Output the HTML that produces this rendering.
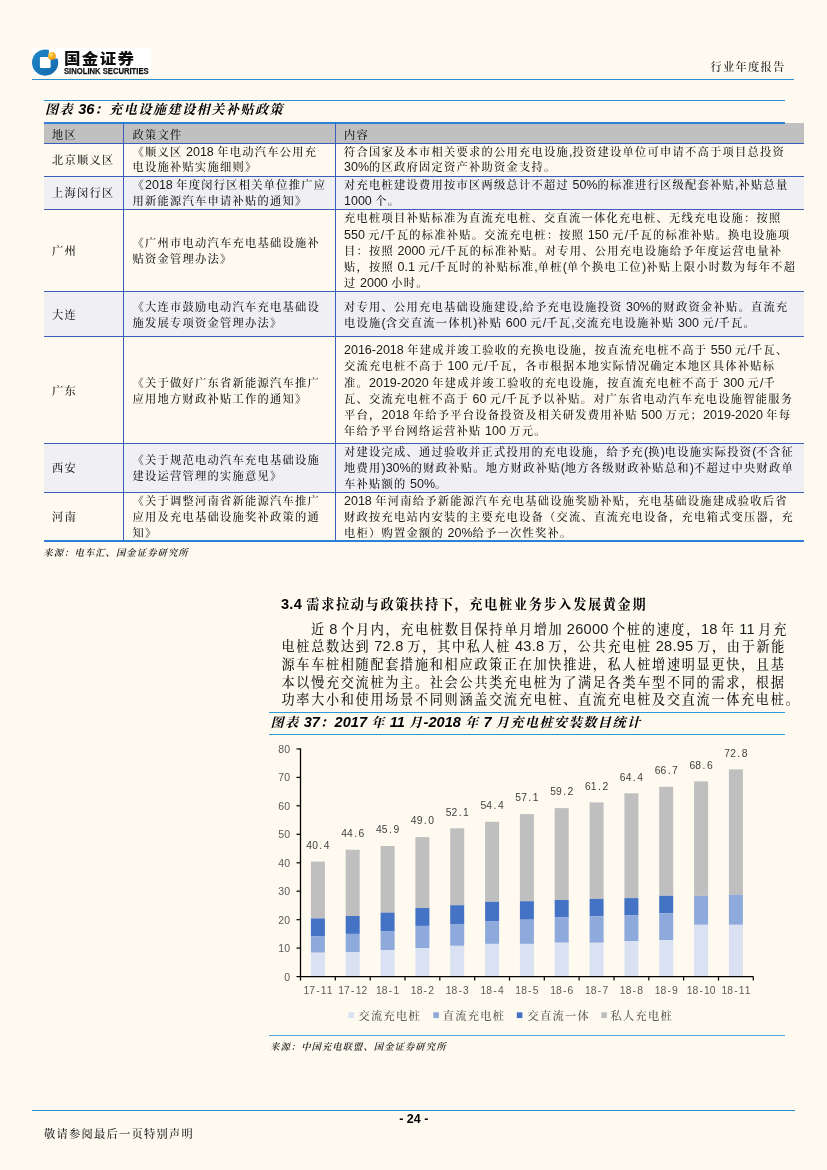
<!DOCTYPE html>
<html lang="zh-CN"><head><meta charset="utf-8"><title>行业年度报告</title><style>
html,body{margin:0;padding:0;}
body{width:827px;height:1170px;position:relative;background:#fefaf0;overflow:hidden;font-family:'Liberation Sans','Noto Serif CJK SC',serif;color:#1a1a1a;}
.abs{position:absolute;}
.ln{position:absolute;height:0;}
.t{position:absolute;white-space:nowrap;}
.cell{position:absolute;display:flex;flex-direction:column;justify-content:center;font-size:12.5px;line-height:16.2px;}
.cell div{white-space:nowrap;}
.row{position:absolute;left:44px;width:760px;}
.alt{background:#f0f0f4;}
.hl{position:absolute;left:44px;width:760px;height:0;border-top:1.1px solid #3c5cb9;}
.vl{position:absolute;width:0;border-left:1.2px solid #3c5cb9;}
.k{font-weight:var(--kw,500);font-size:0.9em;letter-spacing:calc(0.111em + var(--ls,0px));}
.para div{box-sizing:border-box;width:100%;white-space:nowrap;text-align:justify;text-align-last:justify;}
</style></head>
<body>
<div class="abs" style="left:32px;top:48px;width:119px;height:29px;background:#fff"></div>
<svg class="abs" style="left:30px;top:46px" width="32" height="32" viewBox="30 46 32 32">
<defs><radialGradient id="g1" cx="0.35" cy="0.3" r="0.8"><stop offset="0" stop-color="#ffe37a"/><stop offset="0.5" stop-color="#f7b320"/><stop offset="1" stop-color="#e98a12"/></radialGradient>
<linearGradient id="g2" x1="0" y1="0" x2="1" y2="1"><stop offset="0" stop-color="#1d88ca"/><stop offset="1" stop-color="#1668aa"/></linearGradient></defs>
<circle cx="45.1" cy="62.6" r="13.1" fill="url(#g2)"/>
<rect x="39.9" y="57.1" width="10.7" height="10.8" rx="1.2" fill="#fff"/>
<path d="M48.9 48 L60 48 L60 58.6 L50 58.6 L50 57.1 L48.9 57.1 Z" fill="#fff"/>
<circle cx="51.9" cy="55.9" r="3.9" fill="url(#g1)"/>
</svg>
<div class="t" style="left:64px;top:48.6px;font-family:'Liberation Sans','Noto Sans CJK SC',sans-serif;font-weight:900;font-size:15px;line-height:20px;letter-spacing:1.2px;transform:scaleX(1.1);transform-origin:0 0;color:#111">国金证券</div>
<div class="t" style="left:64.2px;top:65.7px;font-family:'Liberation Sans','Noto Sans CJK SC',sans-serif;font-weight:700;font-size:8.5px;line-height:11px;letter-spacing:0;transform:scaleX(0.9);transform-origin:0 0;-webkit-text-stroke:0.25px #111;color:#111">SINOLINK SECURITIES</div>
<div class="t" style="left:710.5px;top:58.4px;font-size:12.5px;line-height:18px;letter-spacing:0px"><span class="k">行业年度报告</span></div>
<div class="ln" style="left:32px;width:762px;top:78.6px;border-top:1.3px solid #2c8fd0"></div>
<div class="ln" style="left:44px;width:741px;top:99.8px;border-top:1.2px solid #2c8fd0"></div>
<div class="t" style="left:45px;top:100px;font-size:14.6px;line-height:18px;font-weight:700;--kw:700;font-style:italic;color:#000"><span class="k">图表</span> 36<span class="k">：充电设施建设相关补贴政策</span></div>
<div class="row" style="top:123px;height:20.2px;background:#c0c0c0"></div>
<div class="ln" style="left:44px;width:741px;top:121.8px;border-top:2px solid #2e7fd6"></div>
<div class="t" style="left:52px;top:126.5px;font-size:12.5px;line-height:17px"><span class="k">地区</span></div>
<div class="t" style="left:132.5px;top:126.5px;font-size:12.5px;line-height:17px"><span class="k">政策文件</span></div>
<div class="t" style="left:344px;top:126.5px;font-size:12.5px;line-height:17px"><span class="k">内容</span></div>
<div class="cell" style="left:52px;top:143.8px;height:33.0px;line-height:15.6px"><div><span class="k">北京顺义区</span></div></div>
<div class="cell" style="left:132.5px;top:143.8px;height:33.0px;line-height:15.6px"><div><span class="k">《顺义区</span> 2018 <span class="k">年电动汽车公用充</span></div><div><span class="k">电设施补贴实施细则》</span></div></div>
<div class="cell" style="left:344px;top:143.8px;height:33.0px;line-height:15.6px"><div><span class="k">符合国家及本市相关要求的公用充电设施</span>,<span class="k">投资建设单位可申请不高于项目总投资</span></div><div>30%<span class="k">的区政府固定资产补助资金支持。</span></div></div>
<div class="row alt" style="top:176.2px;height:33.6px"></div>
<div class="cell" style="left:52px;top:176.8px;height:33.6px;line-height:15.6px"><div><span class="k">上海闵行区</span></div></div>
<div class="cell" style="left:132.5px;top:176.8px;height:33.6px;line-height:15.6px"><div><span class="k">《</span>2018 <span class="k">年度闵行区相关单位推广应</span></div><div><span class="k">用新能源汽车申请补贴的通知》</span></div></div>
<div class="cell" style="left:344px;top:176.8px;height:33.6px;line-height:15.6px"><div><span class="k">对充电桩建设费用按市区两级总计不超过</span> 50%<span class="k">的标准进行区级配套补贴</span>,<span class="k">补贴总量</span></div><div>1000 <span class="k">个。</span></div></div>
<div class="cell" style="left:52px;top:210.4px;height:81.4px;line-height:16.25px"><div><span class="k">广州</span></div></div>
<div class="cell" style="left:132.5px;top:210.4px;height:81.4px;line-height:16.25px"><div><span class="k">《广州市电动汽车充电基础设施补</span></div><div><span class="k">贴资金管理办法》</span></div></div>
<div class="cell" style="left:344px;top:210.4px;height:81.4px;line-height:16.25px"><div><span class="k">充电桩项目补贴标准为直流充电桩、交直流一体化充电桩、无线充电设施：按照</span></div><div>550 <span class="k">元</span>/<span class="k">千瓦的标准补贴。交流充电桩：按照</span> 150 <span class="k">元</span>/<span class="k">千瓦的标准补贴。换电设施项</span></div><div><span class="k">目：按照</span> 2000 <span class="k">元</span>/<span class="k">千瓦的标准补贴。对专用、公用充电设施给予年度运营电量补</span></div><div><span class="k">贴，按照</span> 0.1 <span class="k">元</span>/<span class="k">千瓦时的补贴标准</span>,<span class="k">单桩</span>(<span class="k">单个换电工位</span>)<span class="k">补贴上限小时数为每年不超</span></div><div><span class="k">过</span> 2000 <span class="k">小时。</span></div></div>
<div class="row alt" style="top:291.2px;height:45.8px"></div>
<div class="cell" style="left:52px;top:291.8px;height:45.8px;line-height:16.0px"><div><span class="k">大连</span></div></div>
<div class="cell" style="left:132.5px;top:291.8px;height:45.8px;line-height:16.0px"><div><span class="k">《大连市鼓励电动汽车充电基础设</span></div><div><span class="k">施发展专项资金管理办法》</span></div></div>
<div class="cell" style="left:344px;top:291.8px;height:45.8px;line-height:16.0px"><div><span class="k">对专用、公用充电基础设施建设</span>,<span class="k">给予充电设施投资</span> 30%<span class="k">的财政资金补贴。直流充</span></div><div><span class="k">电设施</span>(<span class="k">含交直流一体机</span>)<span class="k">补贴</span> 600 <span class="k">元</span>/<span class="k">千瓦</span>,<span class="k">交流充电设施补贴</span> 300 <span class="k">元</span>/<span class="k">千瓦。</span></div></div>
<div class="cell" style="left:52px;top:337.6px;height:106.5px;line-height:16.25px"><div><span class="k">广东</span></div></div>
<div class="cell" style="left:132.5px;top:337.6px;height:106.5px;line-height:16.25px"><div><span class="k">《关于做好广东省新能源汽车推广</span></div><div><span class="k">应用地方财政补贴工作的通知》</span></div></div>
<div class="cell" style="left:344px;top:337.6px;height:106.5px;line-height:16.25px"><div>2016-2018 <span class="k">年建成并竣工验收的充换电设施，按直流充电桩不高于</span> 550 <span class="k">元</span>/<span class="k">千瓦、</span></div><div><span class="k">交流充电桩不高于</span> 100 <span class="k">元</span>/<span class="k">千瓦，各市根据本地实际情况确定本地区具体补贴标</span></div><div><span class="k">准。</span>2019-2020 <span class="k">年建成并竣工验收的充电设施，按直流充电桩不高于</span> 300 <span class="k">元</span>/<span class="k">千</span></div><div><span class="k">瓦、交流充电桩不高于</span> 60 <span class="k">元</span>/<span class="k">千瓦予以补贴。对广东省电动汽车充电设施智能服务</span></div><div><span class="k">平台，</span>2018 <span class="k">年给予平台设备投资及相关研发费用补贴</span> 500 <span class="k">万元；</span>2019-2020 <span class="k">年每</span></div><div><span class="k">年给予平台网络运营补贴</span> 100 <span class="k">万元。</span></div></div>
<div class="row alt" style="top:443.5px;height:48.6px"></div>
<div class="cell" style="left:52px;top:444.1px;height:48.6px;line-height:16.0px"><div><span class="k">西安</span></div></div>
<div class="cell" style="left:132.5px;top:444.1px;height:48.6px;line-height:16.0px"><div><span class="k">《关于规范电动汽车充电基础设施</span></div><div><span class="k">建设运营管理的实施意见》</span></div></div>
<div class="cell" style="left:344px;top:444.1px;height:48.6px;line-height:16.0px"><div><span class="k">对建设完成、通过验收并正式投用的充电设施，给予充</span>(<span class="k">换</span>)<span class="k">电设施实际投资</span>(<span class="k">不含征</span></div><div><span class="k">地费用</span>)30%<span class="k">的财政补贴。地方财政补贴</span>(<span class="k">地方各级财政补贴总和</span>)<span class="k">不超过中央财政单</span></div><div><span class="k">车补贴额的</span> 50%<span class="k">。</span></div></div>
<div class="cell" style="left:52px;top:493.3px;height:48.4px;line-height:16.0px"><div><span class="k">河南</span></div></div>
<div class="cell" style="left:132.5px;top:493.3px;height:48.4px;line-height:16.0px"><div><span class="k">《关于调整河南省新能源汽车推广</span></div><div><span class="k">应用及充电基础设施奖补政策的通</span></div><div><span class="k">知》</span></div></div>
<div class="cell" style="left:344px;top:493.3px;height:48.4px;line-height:16.0px"><div>2018 <span class="k">年河南给予新能源汽车充电基础设施奖励补贴，充电基础设施建成验收后省</span></div><div><span class="k">财政按充电站内安装的主要充电设备（交流、直流充电设备，充电箱式变压器，充</span></div><div><span class="k">电柜）购置金额的</span> 20%<span class="k">给予一次性奖补。</span></div></div>
<div class="hl" style="top:175.6px"></div>
<div class="hl" style="top:209.2px"></div>
<div class="hl" style="top:290.6px"></div>
<div class="hl" style="top:336.4px"></div>
<div class="hl" style="top:442.9px"></div>
<div class="hl" style="top:491.5px"></div>
<div class="hl" style="top:142.6px"></div>
<div class="ln" style="left:44px;width:760px;top:540.2px;border-top:2.2px solid #2e7fd6"></div>
<div class="vl" style="left:122.9px;top:123px;height:417px"></div>
<div class="vl" style="left:334.8px;top:123px;height:417px"></div>
<div class="t" style="left:43.3px;top:545.5px;font-size:10.4px;line-height:13px;font-style:italic;--kw:600"><span class="k">来源：电车汇、国金证券研究所</span></div>
<div class="t" style="left:281px;top:594.5px;font-size:14.6px;line-height:19px;font-weight:700;--kw:700;letter-spacing:0.24px;--ls:0.24px;color:#000">3.4 <span class="k">需求拉动与政策扶持下，充电桩业务步入发展黄金期</span></div>
<div class="abs para" style="left:281.5px;top:620.8px;width:504.8px;font-size:14.6px;line-height:16.62px;letter-spacing:0.24px;--ls:0.24px">
<div style="padding-left:29.6px;text-align:left;text-align-last:left;word-spacing:-0.9px;"><span class="k">近</span> 8 <span class="k">个月内，充电桩数目保持单月增加</span> 26000 <span class="k">个桩的速度，</span>18 <span class="k">年</span> 11 <span class="k">月充</span></div>
<div style="text-align:left;text-align-last:left;word-spacing:-0.5px;"><span class="k">电桩总数达到</span> 72.8 <span class="k">万，其中私人桩</span> 43.8 <span class="k">万，公共充电桩</span> 28.95 <span class="k">万，由于新能</span></div>
<div style="text-align:left;text-align-last:left;"><span class="k">源车车桩相随配套措施和相应政策正在加快推进，私人桩增速明显更快，且基</span></div>
<div style="text-align:left;text-align-last:left;"><span class="k">本以慢充交流桩为主。社会公共类充电桩为了满足各类车型不同的需求，根据</span></div>
<div style="text-align:left;text-align-last:left;"><span class="k">功率大小和使用场景不同则涵盖交流充电桩、直流充电桩及交直流一体充电桩。</span></div>
</div>
<div class="ln" style="left:269px;width:516px;top:711.8px;border-top:1.2px solid #2c9bd6"></div>
<div class="t" style="left:270.5px;top:713px;font-size:14.6px;line-height:18px;font-weight:700;--kw:700;font-style:italic;color:#000"><span class="k">图表</span> 37<span class="k">：</span>2017 <span class="k">年</span> 11 <span class="k">月</span>-2018 <span class="k">年</span> 7 <span class="k">月充电桩安装数目统计</span></div>
<div class="ln" style="left:269px;width:516px;top:733.5px;border-top:1.2px solid #2c9bd6"></div>
<svg class="abs" style="left:0;top:740px" width="827" height="300" viewBox="0 740 827 300">
<rect x="310.9" y="861.6" width="14.0" height="56.8" fill="#bfbfbf"/>
<rect x="310.9" y="918.4" width="14.0" height="18.1" fill="#4472c4"/>
<rect x="310.9" y="936.5" width="14.0" height="16.2" fill="#8ea9db"/>
<rect x="310.9" y="952.7" width="14.0" height="23.9" fill="#d9e1f2"/>
<text x="309.2 315.0 320.8 326.6" y="848.8" text-anchor="middle" font-family="'Liberation Sans',sans-serif" font-size="10.3" fill="#404040">40.4</text>
<text x="306.3 312.1 317.9 323.7 329.5" y="994.3" text-anchor="middle" font-family="'Liberation Sans',sans-serif" font-size="10.3" fill="#595959">17-11</text>
<rect x="345.7" y="849.7" width="14.0" height="66.3" fill="#bfbfbf"/>
<rect x="345.7" y="916.0" width="14.0" height="17.9" fill="#4472c4"/>
<rect x="345.7" y="933.9" width="14.0" height="18.2" fill="#8ea9db"/>
<rect x="345.7" y="952.1" width="14.0" height="24.5" fill="#d9e1f2"/>
<text x="344.0 349.8 355.6 361.4" y="836.9" text-anchor="middle" font-family="'Liberation Sans',sans-serif" font-size="10.3" fill="#404040">44.6</text>
<text x="341.1 346.9 352.7 358.5 364.3" y="994.3" text-anchor="middle" font-family="'Liberation Sans',sans-serif" font-size="10.3" fill="#595959">17-12</text>
<rect x="380.6" y="846.0" width="14.0" height="66.6" fill="#bfbfbf"/>
<rect x="380.6" y="912.6" width="14.0" height="18.5" fill="#4472c4"/>
<rect x="380.6" y="931.1" width="14.0" height="19.1" fill="#8ea9db"/>
<rect x="380.6" y="950.1" width="14.0" height="26.5" fill="#d9e1f2"/>
<text x="378.9 384.7 390.5 396.3" y="833.2" text-anchor="middle" font-family="'Liberation Sans',sans-serif" font-size="10.3" fill="#404040">45.9</text>
<text x="378.9 384.7 390.5 396.3" y="994.3" text-anchor="middle" font-family="'Liberation Sans',sans-serif" font-size="10.3" fill="#595959">18-1</text>
<rect x="415.4" y="837.1" width="14.0" height="70.9" fill="#bfbfbf"/>
<rect x="415.4" y="908.0" width="14.0" height="17.9" fill="#4472c4"/>
<rect x="415.4" y="925.9" width="14.0" height="22.2" fill="#8ea9db"/>
<rect x="415.4" y="948.1" width="14.0" height="28.5" fill="#d9e1f2"/>
<text x="413.7 419.5 425.3 431.1" y="824.3" text-anchor="middle" font-family="'Liberation Sans',sans-serif" font-size="10.3" fill="#404040">49.0</text>
<text x="413.7 419.5 425.3 431.1" y="994.3" text-anchor="middle" font-family="'Liberation Sans',sans-serif" font-size="10.3" fill="#595959">18-2</text>
<rect x="450.2" y="828.3" width="14.0" height="76.8" fill="#bfbfbf"/>
<rect x="450.2" y="905.2" width="14.0" height="18.8" fill="#4472c4"/>
<rect x="450.2" y="923.9" width="14.0" height="21.9" fill="#8ea9db"/>
<rect x="450.2" y="945.9" width="14.0" height="30.7" fill="#d9e1f2"/>
<text x="448.5 454.3 460.1 465.9" y="815.5" text-anchor="middle" font-family="'Liberation Sans',sans-serif" font-size="10.3" fill="#404040">52.1</text>
<text x="448.5 454.3 460.1 465.9" y="994.3" text-anchor="middle" font-family="'Liberation Sans',sans-serif" font-size="10.3" fill="#595959">18-3</text>
<rect x="485.1" y="821.8" width="14.0" height="80.0" fill="#bfbfbf"/>
<rect x="485.1" y="901.8" width="14.0" height="19.4" fill="#4472c4"/>
<rect x="485.1" y="921.1" width="14.0" height="22.8" fill="#8ea9db"/>
<rect x="485.1" y="943.9" width="14.0" height="32.7" fill="#d9e1f2"/>
<text x="483.4 489.2 495.0 500.8" y="809.0" text-anchor="middle" font-family="'Liberation Sans',sans-serif" font-size="10.3" fill="#404040">54.4</text>
<text x="483.4 489.2 495.0 500.8" y="994.3" text-anchor="middle" font-family="'Liberation Sans',sans-serif" font-size="10.3" fill="#595959">18-4</text>
<rect x="519.9" y="814.1" width="14.0" height="87.1" fill="#bfbfbf"/>
<rect x="519.9" y="901.2" width="14.0" height="18.5" fill="#4472c4"/>
<rect x="519.9" y="919.7" width="14.0" height="24.2" fill="#8ea9db"/>
<rect x="519.9" y="943.9" width="14.0" height="32.7" fill="#d9e1f2"/>
<text x="518.2 524.0 529.8 535.6" y="801.3" text-anchor="middle" font-family="'Liberation Sans',sans-serif" font-size="10.3" fill="#404040">57.1</text>
<text x="518.2 524.0 529.8 535.6" y="994.3" text-anchor="middle" font-family="'Liberation Sans',sans-serif" font-size="10.3" fill="#595959">18-5</text>
<rect x="554.7" y="808.1" width="14.0" height="91.9" fill="#bfbfbf"/>
<rect x="554.7" y="900.0" width="14.0" height="17.1" fill="#4472c4"/>
<rect x="554.7" y="917.1" width="14.0" height="25.6" fill="#8ea9db"/>
<rect x="554.7" y="942.7" width="14.0" height="33.9" fill="#d9e1f2"/>
<text x="553.0 558.8 564.6 570.4" y="795.3" text-anchor="middle" font-family="'Liberation Sans',sans-serif" font-size="10.3" fill="#404040">59.2</text>
<text x="553.0 558.8 564.6 570.4" y="994.3" text-anchor="middle" font-family="'Liberation Sans',sans-serif" font-size="10.3" fill="#595959">18-6</text>
<rect x="589.6" y="802.4" width="14.0" height="96.5" fill="#bfbfbf"/>
<rect x="589.6" y="898.9" width="14.0" height="17.4" fill="#4472c4"/>
<rect x="589.6" y="916.3" width="14.0" height="26.5" fill="#8ea9db"/>
<rect x="589.6" y="942.7" width="14.0" height="33.9" fill="#d9e1f2"/>
<text x="587.9 593.7 599.5 605.3" y="789.6" text-anchor="middle" font-family="'Liberation Sans',sans-serif" font-size="10.3" fill="#404040">61.2</text>
<text x="587.9 593.7 599.5 605.3" y="994.3" text-anchor="middle" font-family="'Liberation Sans',sans-serif" font-size="10.3" fill="#595959">18-7</text>
<rect x="624.4" y="793.3" width="14.0" height="104.7" fill="#bfbfbf"/>
<rect x="624.4" y="898.1" width="14.0" height="17.4" fill="#4472c4"/>
<rect x="624.4" y="915.4" width="14.0" height="25.9" fill="#8ea9db"/>
<rect x="624.4" y="941.3" width="14.0" height="35.3" fill="#d9e1f2"/>
<text x="622.7 628.5 634.3 640.1" y="780.5" text-anchor="middle" font-family="'Liberation Sans',sans-serif" font-size="10.3" fill="#404040">64.4</text>
<text x="622.7 628.5 634.3 640.1" y="994.3" text-anchor="middle" font-family="'Liberation Sans',sans-serif" font-size="10.3" fill="#595959">18-8</text>
<rect x="659.2" y="786.8" width="14.0" height="109.0" fill="#bfbfbf"/>
<rect x="659.2" y="895.8" width="14.0" height="17.6" fill="#4472c4"/>
<rect x="659.2" y="913.4" width="14.0" height="26.8" fill="#8ea9db"/>
<rect x="659.2" y="940.2" width="14.0" height="36.4" fill="#d9e1f2"/>
<text x="657.5 663.3 669.1 674.9" y="774.0" text-anchor="middle" font-family="'Liberation Sans',sans-serif" font-size="10.3" fill="#404040">66.7</text>
<text x="657.5 663.3 669.1 674.9" y="994.3" text-anchor="middle" font-family="'Liberation Sans',sans-serif" font-size="10.3" fill="#595959">18-9</text>
<rect x="694.1" y="781.4" width="14.0" height="114.4" fill="#bfbfbf"/>
<rect x="694.1" y="895.8" width="14.0" height="29.0" fill="#8ea9db"/>
<rect x="694.1" y="924.8" width="14.0" height="51.8" fill="#d9e1f2"/>
<text x="692.4 698.2 704.0 709.8" y="768.6" text-anchor="middle" font-family="'Liberation Sans',sans-serif" font-size="10.3" fill="#404040">68.6</text>
<text x="689.5 695.3 701.1 706.9 712.7" y="994.3" text-anchor="middle" font-family="'Liberation Sans',sans-serif" font-size="10.3" fill="#595959">18-10</text>
<rect x="728.9" y="769.4" width="14.0" height="125.5" fill="#bfbfbf"/>
<rect x="728.9" y="894.9" width="14.0" height="29.9" fill="#8ea9db"/>
<rect x="728.9" y="924.8" width="14.0" height="51.8" fill="#d9e1f2"/>
<text x="727.2 733.0 738.8 744.6" y="756.6" text-anchor="middle" font-family="'Liberation Sans',sans-serif" font-size="10.3" fill="#404040">72.8</text>
<text x="724.3 730.1 735.9 741.7 747.5" y="994.3" text-anchor="middle" font-family="'Liberation Sans',sans-serif" font-size="10.3" fill="#595959">18-11</text>
<path d="M300.5 748.6 V976.6 H753.3" fill="none" stroke="#000" stroke-width="1.3"/>
<path d="M296.5 976.6 H300.5" stroke="#000" stroke-width="1.2"/>
<text x="290" y="980.6" text-anchor="end" font-family="'Liberation Sans',sans-serif" font-size="10.5" fill="#595959">0</text>
<path d="M296.5 948.1 H300.5" stroke="#000" stroke-width="1.2"/>
<text x="290" y="952.1" text-anchor="end" font-family="'Liberation Sans',sans-serif" font-size="10.5" fill="#595959">10</text>
<path d="M296.5 919.7 H300.5" stroke="#000" stroke-width="1.2"/>
<text x="290" y="923.7" text-anchor="end" font-family="'Liberation Sans',sans-serif" font-size="10.5" fill="#595959">20</text>
<path d="M296.5 891.2 H300.5" stroke="#000" stroke-width="1.2"/>
<text x="290" y="895.2" text-anchor="end" font-family="'Liberation Sans',sans-serif" font-size="10.5" fill="#595959">30</text>
<path d="M296.5 862.8 H300.5" stroke="#000" stroke-width="1.2"/>
<text x="290" y="866.8" text-anchor="end" font-family="'Liberation Sans',sans-serif" font-size="10.5" fill="#595959">40</text>
<path d="M296.5 834.3 H300.5" stroke="#000" stroke-width="1.2"/>
<text x="290" y="838.3" text-anchor="end" font-family="'Liberation Sans',sans-serif" font-size="10.5" fill="#595959">50</text>
<path d="M296.5 805.8 H300.5" stroke="#000" stroke-width="1.2"/>
<text x="290" y="809.8" text-anchor="end" font-family="'Liberation Sans',sans-serif" font-size="10.5" fill="#595959">60</text>
<path d="M296.5 777.4 H300.5" stroke="#000" stroke-width="1.2"/>
<text x="290" y="781.4" text-anchor="end" font-family="'Liberation Sans',sans-serif" font-size="10.5" fill="#595959">70</text>
<path d="M296.5 748.9 H300.5" stroke="#000" stroke-width="1.2"/>
<text x="290" y="752.9" text-anchor="end" font-family="'Liberation Sans',sans-serif" font-size="10.5" fill="#595959">80</text>
<path d="M300.5 976.6 V980.6" stroke="#000" stroke-width="1.2"/>
<path d="M335.3 976.6 V980.6" stroke="#000" stroke-width="1.2"/>
<path d="M370.2 976.6 V980.6" stroke="#000" stroke-width="1.2"/>
<path d="M405.0 976.6 V980.6" stroke="#000" stroke-width="1.2"/>
<path d="M439.8 976.6 V980.6" stroke="#000" stroke-width="1.2"/>
<path d="M474.7 976.6 V980.6" stroke="#000" stroke-width="1.2"/>
<path d="M509.5 976.6 V980.6" stroke="#000" stroke-width="1.2"/>
<path d="M544.3 976.6 V980.6" stroke="#000" stroke-width="1.2"/>
<path d="M579.1 976.6 V980.6" stroke="#000" stroke-width="1.2"/>
<path d="M614.0 976.6 V980.6" stroke="#000" stroke-width="1.2"/>
<path d="M648.8 976.6 V980.6" stroke="#000" stroke-width="1.2"/>
<path d="M683.6 976.6 V980.6" stroke="#000" stroke-width="1.2"/>
<path d="M718.5 976.6 V980.6" stroke="#000" stroke-width="1.2"/>
<path d="M753.3 976.6 V980.6" stroke="#000" stroke-width="1.2"/>
<rect x="348.4" y="1012.3" width="5.6" height="5.8" fill="#d9e1f2"/>
<text x="358.5" y="1019.6" font-family="'Liberation Sans','Noto Serif CJK SC',serif" font-size="11.25" font-weight="500" letter-spacing="1.25" fill="#595959">交流充电桩</text>
<rect x="433.3" y="1012.3" width="5.6" height="5.8" fill="#8ea9db"/>
<text x="442.8" y="1019.6" font-family="'Liberation Sans','Noto Serif CJK SC',serif" font-size="11.25" font-weight="500" letter-spacing="1.25" fill="#595959">直流充电桩</text>
<rect x="516.8" y="1012.3" width="5.6" height="5.8" fill="#4472c4"/>
<text x="527.5" y="1019.6" font-family="'Liberation Sans','Noto Serif CJK SC',serif" font-size="11.25" font-weight="500" letter-spacing="1.25" fill="#595959">交直流一体</text>
<rect x="601.3" y="1012.3" width="5.6" height="5.8" fill="#bfbfbf"/>
<text x="610.5" y="1019.6" font-family="'Liberation Sans','Noto Serif CJK SC',serif" font-size="11.25" font-weight="500" letter-spacing="1.25" fill="#595959">私人充电桩</text>
</svg>
<div class="ln" style="left:269px;width:516px;top:1035.2px;border-top:1.2px solid #4fa8dc"></div>
<div class="t" style="left:270px;top:1039.5px;font-size:10.4px;line-height:13px;font-style:italic;--kw:600"><span class="k">来源：中国充电联盟、国金证券研究所</span></div>
<div class="ln" style="left:32px;width:763px;top:1109.8px;border-top:1.2px solid #2c8fd0"></div>
<div class="t" style="left:399.2px;top:1111.6px;font-family:'Liberation Sans',sans-serif;font-weight:700;font-size:12.5px;line-height:14px;color:#000">- 24 -</div>
<div class="t" style="left:44px;top:1124.5px;font-size:12.5px;line-height:18px"><span class="k">敬请参阅最后一页特别声明</span></div>
</body></html>
